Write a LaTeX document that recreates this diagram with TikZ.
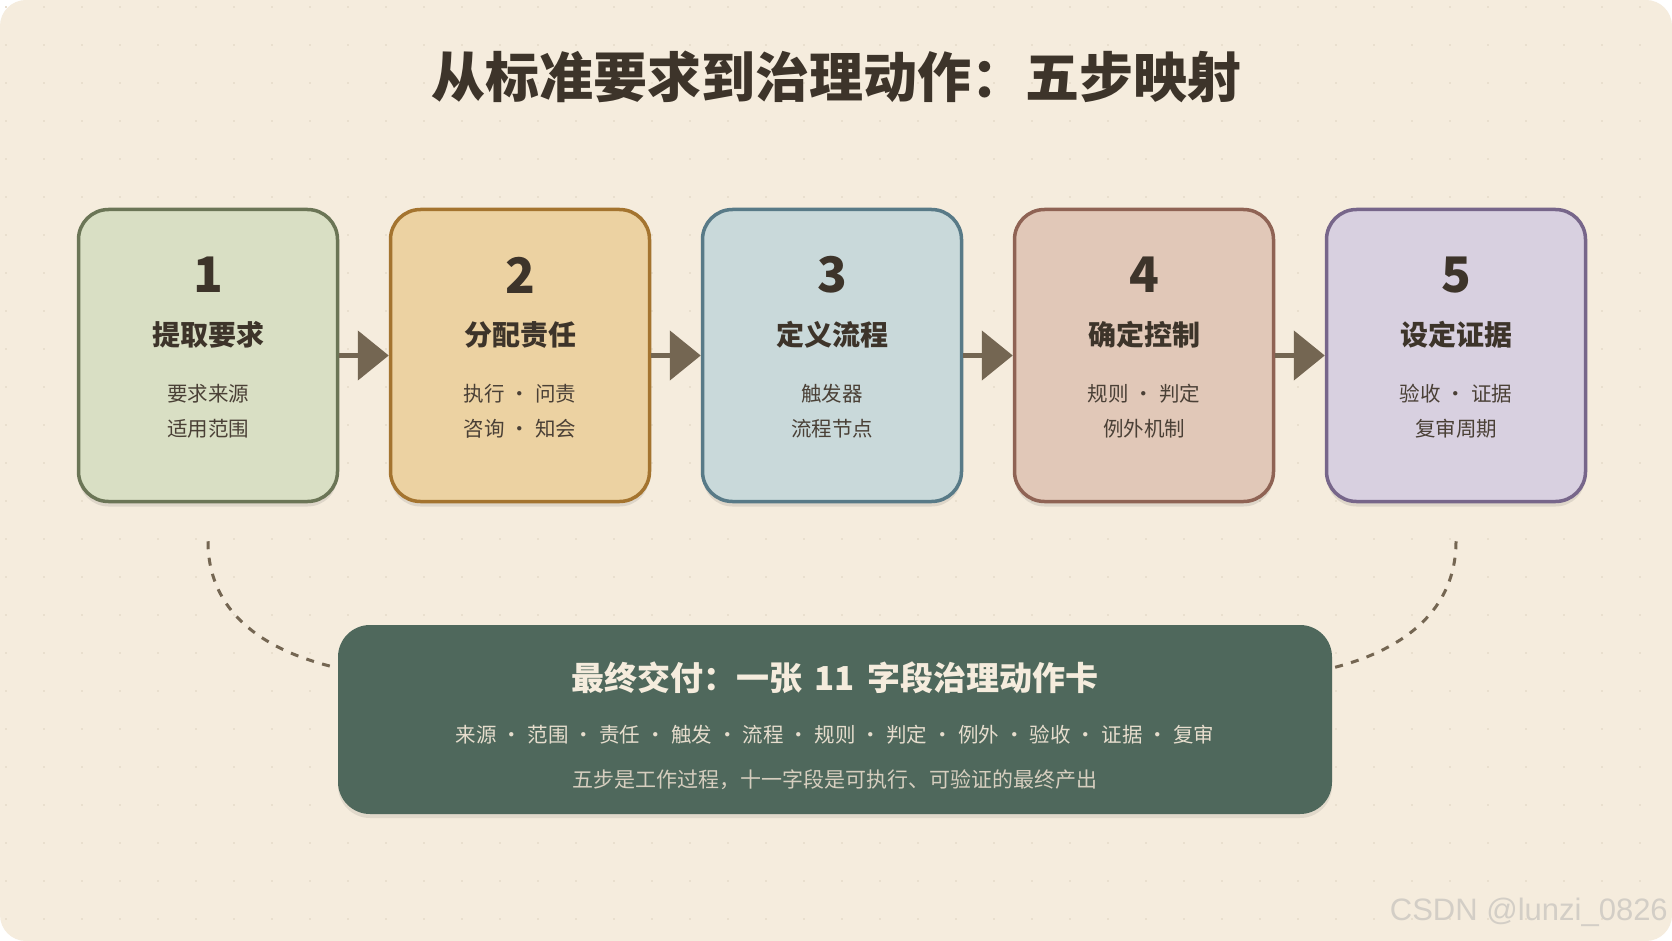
\documentclass[tikz,border=0pt]{standalone}
\usepackage{fontspec}
\setmainfont{Noto Sans CJK SC}
\newfontfamily\wmfont{Liberation Sans}
\usetikzlibrary{arrows.meta,shadows}
\definecolor{bgc}{HTML}{F5ECDD}
\definecolor{dotc}{HTML}{E9DFCE}
\definecolor{ink}{HTML}{3D342A}
\definecolor{subink}{HTML}{4A4036}
\definecolor{arrc}{HTML}{746652}
\definecolor{fa}{HTML}{D9DFC4}\definecolor{ba}{HTML}{6B7556}
\definecolor{fb}{HTML}{ECD2A2}\definecolor{bb}{HTML}{A4742F}
\definecolor{fc}{HTML}{C9D9DA}\definecolor{bc}{HTML}{587A87}
\definecolor{fd}{HTML}{E1C8B8}\definecolor{bd}{HTML}{8F6354}
\definecolor{fe}{HTML}{D8D0E0}\definecolor{be}{HTML}{77668A}
\definecolor{deep}{HTML}{4F685C}
\definecolor{lighttxt}{HTML}{F5ECDD}
\definecolor{midtxt}{HTML}{E6DDCD}
\definecolor{softtxt}{HTML}{D6CEBF}
\definecolor{wmc}{HTML}{D3CEC6}
\begin{document}
\begin{tikzpicture}[x=1pt,y=-1pt,
  stepbox/.style={rounded corners=30pt, line width=3.5pt, minimum width=259pt, minimum height=292pt, inner sep=0pt,
    drop shadow={shadow xshift=0pt, shadow yshift=-5pt, opacity=0.09, fill=black}},
  numtxt/.style={inner sep=0pt, text=ink, font=\bfseries\fontsize{49}{50}\selectfont},
  ttl/.style={inner sep=0pt, text=ink, font=\bfseries\fontsize{28}{30}\selectfont},
  subtxt/.style={inner sep=0pt, text=subink, align=center, font=\fontsize{20.5}{35}\selectfont},
  flow/.style={line width=5pt, draw=arrc, -{Triangle[length=31pt,width=49pt]}},
  link/.style={line width=3pt, draw=arrc, dash pattern=on 8pt off 8.5pt}]
\newcommand\mdot{\hspace{0.25em}·\hspace{0.25em}}
\useasboundingbox (0,0) rectangle (1672,941);
\fill[white] (0,0) rectangle (1672,941);
\fill[bgc, rounded corners=26pt] (0,0) rectangle (1672,941);
\foreach \i in {0,...,43}{\foreach \j in {0,...,24}{
  \fill[dotc] ({5+38*\i},{6+38*\j}) rectangle ++(2,2);}}

\node[inner sep=0pt, text=ink, font=\bfseries\fontsize{54}{60}\selectfont] (title) at (836,77) {从标准要求到治理动作：五步映射};

\node[stepbox, draw=ba, fill=fa] (s1) at (208,355.5) {};
\node[stepbox, draw=bb, fill=fb] (s2) at (520,355.5) {};
\node[stepbox, draw=bc, fill=fc] (s3) at (832,355.5) {};
\node[stepbox, draw=bd, fill=fd] (s4) at (1144,355.5) {};
\node[stepbox, draw=be, fill=fe] (s5) at (1456,355.5) {};

\node[numtxt] (n1) at (208,275) {1};
\node[numtxt] (n2) at (520,275) {2};
\node[numtxt] (n3) at (832,275) {3};
\node[numtxt] (n4) at (1144,275) {4};
\node[numtxt] (n5) at (1456,275) {5};

\node[ttl] (t1) at (208,335) {提取要求};
\node[ttl] (t2) at (520,335) {分配责任};
\node[ttl] (t3) at (832,335) {定义流程};
\node[ttl] (t4) at (1144,335) {确定控制};
\node[ttl] (t5) at (1456,335) {设定证据};

\node[subtxt] (d1) at (208,411.5) {要求来源\\适用范围};
\node[subtxt] (d2) at (520,411.5) {执行\mdot 问责\\咨询\mdot 知会};
\node[subtxt] (d3) at (832,411.5) {触发器\\流程节点};
\node[subtxt] (d4) at (1144,411.5) {规则\mdot 判定\\例外机制};
\node[subtxt] (d5) at (1456,411.5) {验收\mdot 证据\\复审周期};

\draw[flow] (s1.east) -- (s2.west);
\draw[flow] (s2.east) -- (s3.west);
\draw[flow] (s3.east) -- (s4.west);
\draw[flow] (s4.east) -- (s5.west);

\node[rounded corners=32pt, fill=deep, minimum width=994pt, minimum height=189pt, inner sep=0pt,
  drop shadow={shadow xshift=0pt, shadow yshift=-4pt, opacity=0.08, fill=black}] (fin) at (835,719.5) {};
\node[inner sep=0pt, text=lighttxt, font=\bfseries\fontsize{33}{34}\selectfont] (fint) at (835,678) {最终交付：一张\hspace{0.15em} 11 \hspace{0.15em}字段治理动作卡};
\node[inner sep=0pt, text=midtxt, font=\fontsize{20.5}{22}\selectfont] (finf) at (835,735) {来源\mdot 范围\mdot 责任\mdot 触发\mdot 流程\mdot 规则\mdot 判定\mdot 例外\mdot 验收\mdot 证据\mdot 复审};
\node[inner sep=0pt, text=softtxt, font=\fontsize{21}{22}\selectfont] (finn) at (835,780) {五步是工作过程，十一字段是可执行、可验证的最终产出};

\coordinate (l0) at ([yshift=-38pt]s1.south);
\coordinate (r0) at ([yshift=-38pt]s5.south);
\coordinate (l1) at (fin.west |- 0,668);
\coordinate (r1) at (fin.east |- 0,668);
\draw[link] (l0) .. controls (208,610) and (260,650) .. (l1);
\draw[link] (r0) .. controls (1456,610) and (1404,650) .. (r1);

\node[anchor=east, inner sep=0pt, text=wmc, font=\wmfont\fontsize{31}{31}\selectfont] (wm) at (1668,912) {CSDN @lunzi\_0826};
\end{tikzpicture}
\end{document}
